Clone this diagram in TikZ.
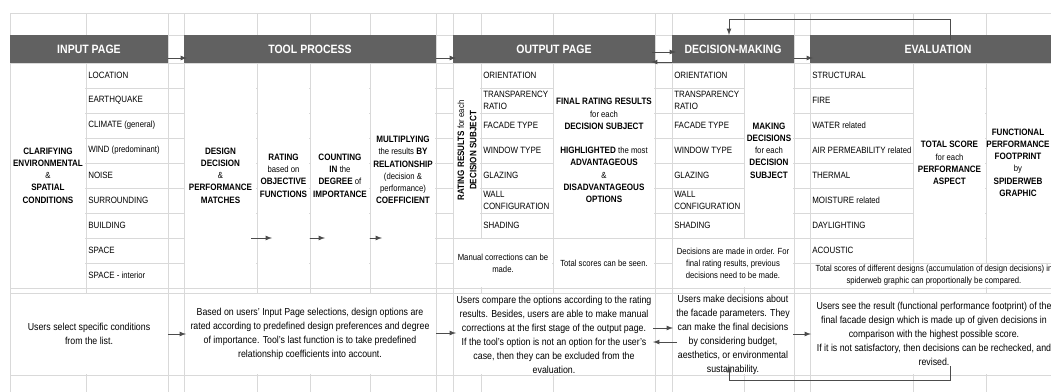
\documentclass[tikz,border=0pt]{standalone}
\usepackage{fontspec}
\setmainfont{Liberation Sans}[FakeStretch=0.87]
\usepackage{tikz}
\usetikzlibrary{arrows}

\newcommand{\sm}[1]{{\mdseries\fontsize{6.3}{8.7}\selectfont #1}}

\begin{document}
\begin{tikzpicture}[x=0.25mm, y=-0.25mm,
  gridline/.style={draw=black!15, line width=0.6pt},
  headband/.style={fill=black!62},
  headtext/.style={text=white, inner sep=0pt, font=\fontsize{8.6}{10}\selectfont\bfseries},
  item/.style={anchor=west, align=left, inner sep=0pt, font=\fontsize{6.5}{8.9}\selectfont},
  celltext/.style={align=center, inner sep=0pt, font=\fontsize{6.6}{8.7}\selectfont\bfseries},
  note/.style={align=center, inner sep=0pt, font=\fontsize{6.3}{8.5}\selectfont},
  usage/.style={align=center, inner sep=0pt, font=\fontsize{7.2}{9.9}\selectfont},
  flow/.style={-latex, draw=black!70, line width=0.6pt}]

\clip (0,0) rectangle (1051,392);

% spreadsheet grid
\foreach \x in {10,86,168,184,257,310,370,436,453,481,553,655,672,744,794,810,913,986,1066}
  \draw[gridline] (\x,13) -- (\x,400);
\foreach \y in {13,35,63,88,113,138,163,188,213,238,263,288,293,375,400}
  \draw[gridline] (10,\y) -- (1070,\y);

% merged cells
\foreach \xa/\ya/\xb/\yb in {10/63/86/288, 184/63/257/288, 257/63/310/288, 310/63/370/288,
    370/63/436/288, 453/63/481/238, 553/63/655/238, 453/238/553/288, 553/238/655/288,
    744/63/794/238, 672/238/794/288, 913/63/986/263, 986/63/1070/263, 810/263/1070/288,
    10/293/168/375, 184/293/436/375, 453/293/655/375, 672/293/794/375, 810/293/1070/375}
  \fill[white] (\xa+0.6,\ya+0.6) rectangle (\xb-0.6,\yb-0.6);

% page headers
\foreach \xa/\xb in {10/168, 184/436, 453/655, 672/794, 810/1070}
  \fill[headband] (\xa,35) rectangle (\xb,63);
\node[headtext] (inphead) at (89,49) {INPUT PAGE};
\node[headtext] (toolhead) at (310,49) {TOOL PROCESS};
\node[headtext] (outhead) at (554,49) {OUTPUT PAGE};
\node[headtext] (dechead) at (733,49) {DECISION-MAKING};
\node[headtext] (evalhead) at (938,49) {EVALUATION};

% input page
\node[celltext] (clarify) at (48,175.5) {CLARIFYING\\ENVIRONMENTAL\\\sm{\&}\\SPATIAL\\CONDITIONS};
\foreach \t [count=\i] in {LOCATION, EARTHQUAKE, CLIMATE \sm{(general)}, WIND \sm{(predominant)},
    NOISE, SURROUNDING, BUILDING, SPACE, SPACE - \sm{interior}}
  \node[item] (inp-\i) at (88,50.5+25*\i) {\t};

% tool process
\node[celltext] (design) at (220.5,175.5) {DESIGN\\DECISION\\\sm{\&}\\PERFORMANCE\\MATCHES};
\node[celltext] (rating) at (283.5,175.5) {RATING\\\sm{based on}\\OBJECTIVE\\FUNCTIONS};
\node[celltext] (counting) at (340,175.5) {COUNTING\\IN \sm{the}\\DEGREE \sm{of}\\IMPORTANCE};
\node[celltext] (multiply) at (403,170) {MULTIPLYING\\\sm{the results} BY\\RELATIONSHIP\\\sm{(decision \&}\\\sm{performance)}\\COEFFICIENT};

% output page
\node[celltext, rotate=90] (ratres) at (467,150.5) {RATING RESULTS \sm{for each}\\DECISION SUBJECT};
\foreach \t [count=\i] in {ORIENTATION, TRANSPARENCY\\RATIO, FACADE TYPE, WINDOW TYPE,
    GLAZING, WALL\\CONFIGURATION, SHADING}
  \node[item] (out-\i) at (483,50.5+25*\i) {\t};
\node[celltext] (finalres) at (604,150.5) {FINAL RATING RESULTS\\\sm{for each}\\DECISION SUBJECT\\[8.7pt]
  HIGHLIGHTED \sm{the most}\\ADVANTAGEOUS\\\sm{\&}\\DISADVANTAGEOUS\\OPTIONS};
\node[note] (manual) at (503,263) {Manual corrections can be\\made.};
\node[note] (seen) at (604,263) {Total scores can be seen.};

% decision-making
\foreach \t [count=\i] in {ORIENTATION, TRANSPARENCY\\RATIO, FACADE TYPE, WINDOW TYPE,
    GLAZING, WALL\\CONFIGURATION, SHADING}
  \node[item] (dec-\i) at (674,50.5+25*\i) {\t};
\node[celltext] (making) at (769,150.5) {MAKING\\DECISIONS\\\sm{for each}\\DECISION\\SUBJECT};
\node[note] (order) at (733,263.5) {Decisions are made in order. For\\final rating results, previous\\decisions need to be made.};

% evaluation
\foreach \t [count=\i] in {STRUCTURAL, FIRE, WATER \sm{related}, AIR PERMEABILITY \sm{related},
    THERMAL, MOISTURE \sm{related}, DAYLIGHTING, ACOUSTIC}
  \node[item] (ev-\i) at (812,50.5+25*\i) {\t};
\node[celltext] (total) at (949.5,163) {TOTAL SCORE\\\sm{for each}\\PERFORMANCE\\ASPECT};
\node[celltext] (footprint) at (1018,162.5) {FUNCTIONAL\\PERFORMANCE\\FOOTPRINT\\\sm{by}\\SPIDERWEB\\GRAPHIC};
\node[note] (compare) at (934,275.5) {Total scores of different designs (accumulation of design decisions) in\\spiderweb graphic can proportionally be compared.};

% what the user does on each page
\node[usage] (inpuse) at (89,334) {Users select specific conditions\\from the list.};
\node[usage] (tooluse) at (310,334) {Based on users' Input Page selections, design options are\\rated according to predefined design preferences and degree\\of importance. Tool's last function is to take predefined\\relationship coefficients into account.};
\node[usage] (outuse) at (554,335) {Users compare the options according to the rating\\results. Besides, users are able to make manual\\corrections at the first stage of the output page.\\If the tool's option is not an option for the user's\\case, then they can be excluded from the\\evaluation.};
\node[usage] (decuse) at (733,335) {Users make decisions about\\the facade parameters. They\\can make the final decisions\\by considering budget,\\aesthetics, or environmental\\sustainability.};
\node[usage] (evaluse) at (934,334) {Users see the result (functional performance footprint) of the\\final facade design which is made up of given decisions in\\comparison with the highest possible score.\\If it is not satisfactory, then decisions can be rechecked, and\\revised.};

% arrows from page to page
\foreach \n/\xa/\xb/\yy in {h1/168/187/58, h2/436/456/58, h3/652/676/52, h4/672/651/62, h5/794/813/58,
    t1/251/272/238, t2/310/325/238, t3/370/382/238,
    b1/168/186/334, b2/436/456/333, b3/653/673/328, b4/677/653/342, b5/793/811/334} {
  \coordinate (\n-s) at (\xa,\yy);
  \coordinate (\n-e) at (\xb,\yy);
  \draw[flow] (\n-s) -- (\n-e);
}

% going back from evaluation to decision-making
\coordinate (evtop) at (950,40);
\coordinate (dectop) at (729,35);
\draw[flow] (evtop) -- ++(0,-21) -| (dectop);
\coordinate (evbot) at (950,366);
\coordinate (decbot) at (729,366);
\draw[flow] (evbot) -- ++(0,14) -| (decbot);
\end{tikzpicture}
\end{document}
